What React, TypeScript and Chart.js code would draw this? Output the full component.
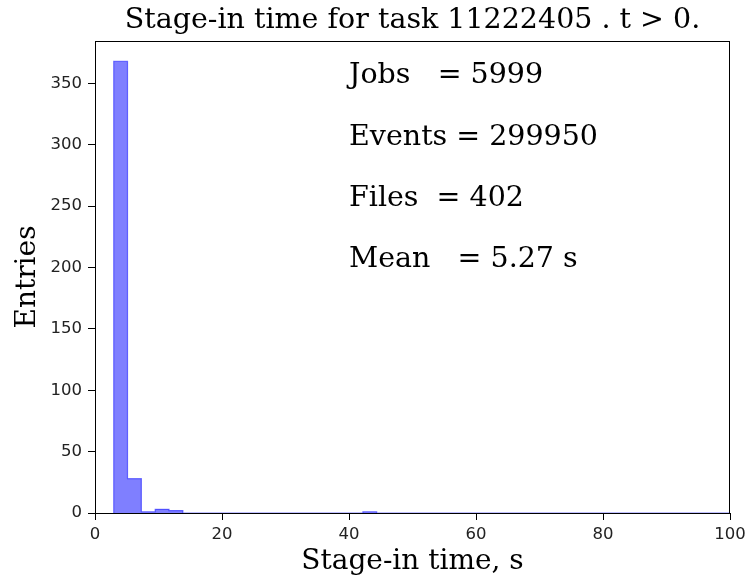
import React, { useEffect, useRef } from "react";
import { Chart, registerables } from "chart.js";

Chart.register(...registerables);

// Histogram data
const binStart = 2.94;
const binWidth = 2.18;
const binCounts = [368, 28, 1, 3, 2, 0, 0, 0, 0, 0, 0, 0, 0, 0, 0, 0, 0, 0, 1];
const xTicks = [0, 20, 40, 60, 80, 100];
const yTicks = [0, 50, 100, 150, 200, 250, 300, 350];
const xMin = 0;
const xMax = 100;
const yMax = 384.5;

const titleText = "Stage-in time for task 11222405 . t > 0.";
const xLabel = "Stage-in time, s";
const yLabel = "Entries";
const statLines = ["Jobs   = 5999", "Events = 299950", "Files  = 402", "Mean   = 5.27 s"];
const statY = [350, 300, 250, 200];
const statX = 40;

function buildSteps() {
  const pts: { x: number; y: number }[] = [];
  pts.push({ x: binStart, y: 0 });
  binCounts.forEach((c, i) => pts.push({ x: binStart + i * binWidth, y: c }));
  pts.push({ x: binStart + binCounts.length * binWidth, y: 0 });
  pts.push({ x: xMax, y: 0 });
  return pts;
}

const overlay = {
  id: "overlay",
  afterDraw(chart: any) {
    const { ctx, chartArea, scales } = chart;
    const { left, right, top, bottom } = chartArea;
    ctx.save();
    // frame
    ctx.strokeStyle = "#000";
    ctx.lineWidth = 1;
    ctx.strokeRect(Math.round(left) + 0.5, Math.round(top) + 0.5, Math.round(right - left) - 1, Math.round(bottom - top));
    // title
    ctx.fillStyle = "#000";
    ctx.font = "28.5px 'DejaVu Serif'";
    ctx.textAlign = "center";
    ctx.textBaseline = "alphabetic";
    ctx.fillText(titleText, (left + right) / 2, 28);
    // x label
    ctx.font = "28px 'DejaVu Serif'";
    ctx.fillText(xLabel, (left + right) / 2, 569);
    // y label
    ctx.save();
    ctx.translate(35, (top + bottom) / 2);
    ctx.rotate(-Math.PI / 2);
    ctx.fillText(yLabel, 0, 0);
    ctx.restore();
    // stats
    ctx.font = "28.5px 'DejaVu Serif'";
    ctx.textAlign = "left";
    statLines.forEach((s, i) => {
      ctx.fillText(s, scales.x.getPixelForValue(statX), scales.y.getPixelForValue(statY[i]));
    });
    ctx.restore();
  },
};

export default function App() {
  const ref = useRef<HTMLCanvasElement>(null);
  useEffect(() => {
    document.body.style.margin = "0";
    const chart = new Chart(ref.current!, {
      type: "line",
      data: {
        datasets: [
          {
            data: buildSteps(),
            stepped: "before",
            borderColor: "rgba(0,0,255,0.5)",
            backgroundColor: "rgba(0,0,255,0.5)",
            borderWidth: 1.2,
            fill: "origin",
            pointRadius: 0,
          } as any,
        ],
      },
      plugins: [overlay],
      options: {
        animation: false,
        responsive: false,
        maintainAspectRatio: false,
        layout: { padding: { top: 41, right: 16, left: 0, bottom: 0 } },
        plugins: { legend: { display: false }, tooltip: { enabled: false }, title: { display: false } },
        scales: {
          x: {
            type: "linear",
            min: xMin,
            max: xMax,
            afterFit: (s: any) => { s.height = 67; s.paddingLeft = 0; s.paddingRight = 0; },
            afterBuildTicks: (s: any) => { s.ticks = xTicks.map((v) => ({ value: v })); },
            border: { display: false },
            grid: { drawOnChartArea: false, drawTicks: true, tickLength: 7, color: "#000" },
            ticks: { padding: 5, color: "#222", font: { family: "'DejaVu Sans'", size: 16.5 }, maxRotation: 0 },
          },
          y: {
            type: "linear",
            min: 0,
            max: yMax,
            afterFit: (s: any) => { s.width = 95; s.paddingTop = 0; s.paddingBottom = 0; },
            afterBuildTicks: (s: any) => { s.ticks = yTicks.map((v) => ({ value: v })); },
            border: { display: false },
            grid: { drawOnChartArea: false, drawTicks: true, tickLength: 7, color: "#000" },
            ticks: { padding: 6, color: "#222", font: { family: "'DejaVu Sans'", size: 16.5 } },
          },
        },
      },
    });
    return () => chart.destroy();
  }, []);
  return (
    <div style={{ width: 746, height: 580 }}>
      <canvas ref={ref} width={746} height={580} style={{ display: "block" }} />
    </div>
  );
}
